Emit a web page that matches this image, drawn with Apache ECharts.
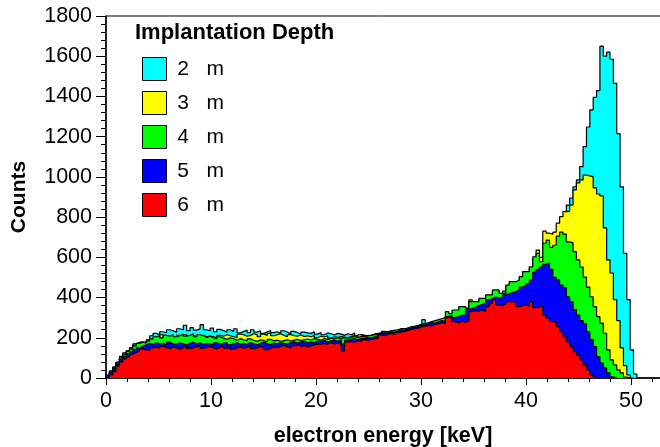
<!DOCTYPE html>
<html>
<head>
<meta charset="utf-8">
<script src="https://cdn.jsdelivr.net/npm/echarts@6/dist/echarts.min.js"></script>
<style>
html,body{margin:0;padding:0;background:#fff;}
#chart{width:660px;height:447px;}
</style>
</head>
<body>
<div id="chart"></div>
<script>
// ---- data (counts per bin, bin width in keV) ----
const BIN_WIDTH = 0.32;
const seriesNames = ["2   m", "3   m", "4   m", "5   m", "6   m"];
const seriesColors = ["#00ffff", "#ffff00", "#00ff00", "#0000ff", "#ff0000"];
const legendTitle = "Implantation Depth";
const xTitle = "electron energy [keV]";
const yTitle = "Counts";

const counts2um = [
  15, 35, 55, 78, 108, 125, 135, 150, 170, 178,
  180, 175, 190, 210, 222, 215, 230, 225, 240, 235,
  228, 245, 240, 262, 235, 250, 238, 244, 265, 240,
  235, 248, 230, 242, 236, 228, 240, 232, 245, 225,
  232, 238, 225, 240, 228, 235, 222, 230, 236, 226,
  230, 222, 235, 228, 220, 232, 226, 218, 228, 224,
  222, 230, 218, 226, 215, 224, 220, 214, 222, 218,
  212, 220, 215, 224, 210, 216, 212, 208, 214, 218,
  222, 224, 228, 226, 232, 236, 234, 240, 244, 246,
  250, 254, 258, 262, 290, 268, 274, 278, 282, 286,
  290, 298, 305, 315, 322, 330, 338, 342, 350, 358,
  365, 372, 380, 390, 398, 408, 415, 420, 432, 440,
  452, 460, 470, 485, 500, 515, 530, 550, 570, 590,
  610, 625, 640, 660, 690, 730, 780, 860, 895, 951,
  985, 1051, 1150, 1248, 1333, 1396, 1429, 1650, 1600, 1620,
  1585, 1465, 1215, 950, 620, 390, 140, 20, 0
];
const counts3um = [
  8, 22, 42, 72, 95, 112, 128, 148, 162, 168,
  172, 180, 178, 190, 198, 205, 215, 200, 210, 205,
  198, 212, 205, 215, 200, 210, 208, 198, 212, 205,
  210, 205, 200, 212, 208, 215, 210, 205, 200, 218,
  215, 208, 212, 220, 215, 205, 218, 212, 222, 210,
  215, 220, 212, 205, 216, 210, 208, 214, 206, 210,
  205, 212, 200, 208, 204, 210, 198, 205, 202, 206,
  204, 200, 206, 212, 205, 215, 208, 212, 210, 218,
  220, 222, 232, 230, 236, 232, 240, 244, 242, 248,
  252, 256, 260, 265, 268, 272, 278, 282, 286, 290,
  295, 305, 315, 325, 330, 345, 350, 345, 388, 370,
  375, 390, 392, 405, 410, 430, 432, 418, 415, 455,
  470, 475, 480, 500, 520, 525, 548, 595, 636, 600,
  730, 720, 715, 725, 770, 802, 827, 830, 860, 935,
  970, 985, 1009, 1005, 1001, 945, 915, 905, 746, 587,
  522, 390, 285, 150, 62, 15, 0
];
const counts4um = [
  12, 30, 50, 78, 100, 118, 132, 145, 160, 172,
  178, 175, 185, 195, 205, 210, 200, 212, 208, 215,
  205, 210, 218, 208, 212, 220, 205, 215, 210, 202,
  208, 200, 195, 205, 198, 192, 200, 195, 188, 196,
  190, 185, 195, 188, 182, 190, 186, 180, 192, 185,
  188, 182, 186, 190, 184, 188, 192, 186, 190, 194,
  190, 195, 192, 188, 196, 192, 198, 195, 200, 196,
  200, 198, 202, 205, 200, 208, 204, 210, 212, 215,
  218, 225, 230, 228, 235, 238, 240, 246, 244, 250,
  256, 258, 262, 268, 270, 275, 280, 285, 290, 296,
  300, 330, 320, 338, 338, 355, 355, 345, 380, 380,
  380, 396, 396, 413, 413, 438, 438, 421, 421, 462,
  479, 479, 487, 504, 529, 529, 553, 603, 620, 578,
  670, 686, 650, 660, 705, 725, 715, 677, 672, 628,
  587, 552, 502, 452, 404, 355, 305, 273, 222, 140,
  90, 65, 40, 25, 5, 0
];
const counts5um = [
  10, 25, 45, 70, 92, 108, 120, 130, 140, 150,
  158, 165, 172, 168, 175, 170, 172, 165, 178, 170,
  168, 175, 170, 165, 172, 178, 170, 175, 168, 172,
  170, 165, 175, 168, 172, 176, 165, 170, 175, 168,
  172, 168, 176, 170, 165, 172, 178, 170, 166, 174,
  170, 175, 172, 168, 176, 180, 174, 178, 182, 175,
  180, 176, 184, 182, 186, 180, 185, 188, 182, 190,
  170, 188, 192, 195, 190, 198, 196, 202, 200, 205,
  210, 220, 225, 222, 230, 228, 234, 240, 238, 245,
  250, 252, 258, 262, 265, 270, 275, 272, 280, 285,
  282, 305, 310, 300, 306, 313, 310, 340, 345, 352,
  360, 365, 373, 388, 395, 403, 398, 400, 413, 420,
  425, 430, 438, 452, 460, 470, 487, 527, 540, 552,
  565, 572, 540, 500, 488, 462, 450, 404, 380, 340,
  313, 285, 270, 230, 190, 156, 106, 74, 50, 25,
  6, 0
];
const counts6um = [
  5, 15, 31, 60, 80, 95, 105, 118, 127, 135,
  145, 140, 138, 150, 155, 148, 158, 152, 146, 155,
  150, 143, 152, 158, 147, 150, 156, 160, 148, 152,
  157, 150, 145, 153, 160, 149, 152, 142, 150, 156,
  148, 153, 160, 146, 150, 157, 152, 141, 148, 155,
  150, 158, 162, 154, 148, 160, 165, 157, 162, 155,
  160, 165, 170, 168, 172, 165, 175, 170, 174, 168,
  135, 180, 182, 178, 185, 180, 190, 188, 192, 195,
  198, 214, 210, 218, 222, 215, 225, 229, 232, 238,
  242, 245, 249, 254, 258, 262, 260, 266, 270, 275,
  272, 300, 305, 280, 275, 282, 278, 285, 330, 335,
  332, 338, 330, 355, 370, 388, 363, 360, 368, 380,
  378, 382, 355, 360, 362, 358, 380, 350, 352, 358,
  313, 297, 280, 278, 255, 230, 205, 180, 156, 131,
  114, 90, 65, 40, 15, 5, 0
];
const allCounts = [counts2um, counts3um, counts4um, counts5um, counts6um];

const xTickValues = [0, 10, 20, 30, 40, 50];
const yTickValues = [0, 200, 400, 600, 800, 1000, 1200, 1400, 1600, 1800];

// ---- build histogram step series ----
function histPoints(values) {
  const pts = [[0, 0]];
  for (let i = 0; i < values.length; i++) pts.push([i * BIN_WIDTH, values[i]]);
  pts.push([values.length * BIN_WIDTH, 0]);
  return pts;
}

const FONT = "'Liberation Sans', Arial, Helvetica, sans-serif";
const chart = echarts.init(document.getElementById('chart'), null, {renderer: 'canvas'});

const series = allCounts.map((vals, k) => ({
  name: seriesNames[k],
  type: 'line',
  step: 'end',
  data: histPoints(vals),
  showSymbol: false,
  symbol: 'none',
  animation: false,
  lineStyle: {color: '#000', width: 1.2},
  itemStyle: {color: seriesColors[k]},
  areaStyle: {color: seriesColors[k], opacity: 1},
  z: 2 + k
}));

chart.setOption({
  animation: false,
  backgroundColor: '#fff',
  textStyle: {fontFamily: FONT},
  title: {
    text: legendTitle,
    left: 135, top: 22, padding: 0,
    textStyle: {fontFamily: FONT, fontSize: 22, fontWeight: 'bold', color: '#000'}
  },
  legend: {
    orient: 'vertical',
    left: 142, top: 57,
    padding: 0,
    icon: 'rect',
    itemWidth: 24, itemHeight: 23, itemGap: 10,
    selectedMode: false,
    formatter: n => ' ' + n,
    textStyle: {fontFamily: FONT, fontSize: 21, color: '#000', lineHeight: 22},
    data: seriesNames.map((n, k) => ({
      name: n,
      itemStyle: {color: seriesColors[k], borderColor: '#000', borderWidth: 1}
    }))
  },
  grid: {
    left: 106, top: 16, width: 630, height: 362,
    outerBoundsMode: 'none', containLabel: false,
    show: true, borderColor: '#000', borderWidth: 1, backgroundColor: 'transparent'
  },
  xAxis: {
    type: 'value', min: xTickValues[0], max: 60, interval: 10,
    name: xTitle, nameLocation: 'middle', nameGap: 47,
    nameTextStyle: {fontFamily: FONT, fontSize: 21.5, fontWeight: 'bold', color: '#000',
      padding: [0, 630 - 554, 0, 0]},
    axisLine: {show: true, lineStyle: {color: '#000', width: 1.5}},
    axisTick: {show: true, length: 7, lineStyle: {color: '#000', width: 1}},
    minorTick: {show: true, splitNumber: 5, length: 4, lineStyle: {color: '#000', width: 1}},
    splitLine: {show: false},
    axisLabel: {fontFamily: FONT, fontSize: 21.5, color: '#000', margin: 12,
      formatter: v => (xTickValues.indexOf(v) >= 0 ? String(v) : '')}
  },
  yAxis: {
    type: 'value', min: yTickValues[0], max: yTickValues[yTickValues.length - 1], interval: 200,
    name: yTitle, nameLocation: 'middle', nameGap: 76, nameRotate: 90,
    nameTextStyle: {fontFamily: FONT, fontSize: 21, fontWeight: 'bold', color: '#000'},
    axisLine: {show: true, lineStyle: {color: '#000', width: 1.5}},
    axisTick: {show: true, length: 10, lineStyle: {color: '#000', width: 1}},
    minorTick: {show: true, splitNumber: 5, length: 5, lineStyle: {color: '#000', width: 1}},
    splitLine: {show: false},
    axisLabel: {fontFamily: FONT, fontSize: 21.5, color: '#000', margin: 14,
      formatter: v => String(v)}
  },
  series: series
});
</script>
</body>
</html>
